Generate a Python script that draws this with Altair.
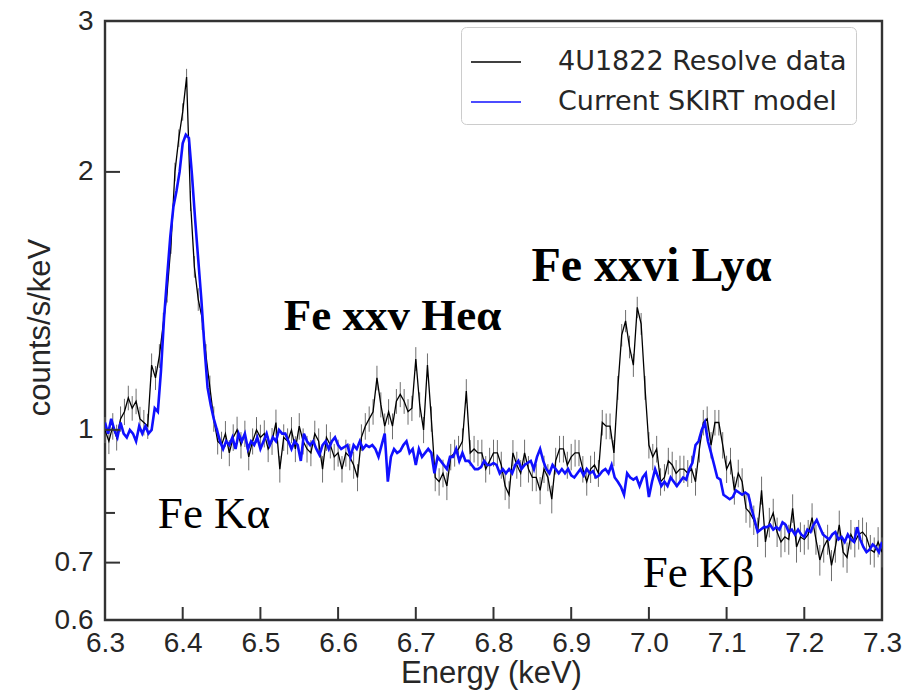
import altair as alt
import pandas as pd

# ---------------- data ----------------
# 4U1822 Resolve data (counts/s/keV), bins from 6.300 to 7.300 keV
data_counts = [
    1.00, 0.97, 1.01, 0.98, 1.03, 1.05, 1.09, 1.06, 1.08, 1.03,
    1.02, 1.01, 1.19, 1.15, 1.22, 1.33, 1.45, 1.65, 2.00, 2.19,
    2.35, 2.58, 1.85, 1.55, 1.42, 1.35, 1.22, 1.12, 1.03, 0.97,
    0.96, 0.99, 0.94, 0.98, 1.00, 0.96, 0.99, 0.93, 0.97, 1.00,
    0.98, 0.99, 0.95, 0.97, 1.02, 0.90, 0.98, 0.97, 1.00, 0.95,
    1.01, 0.97, 0.95, 0.94, 0.99, 0.97, 0.90, 0.98, 0.96, 0.93,
    0.94, 0.90, 0.94, 0.93, 0.91, 0.88, 0.98, 1.01, 1.03, 1.05,
    1.15, 1.07, 1.01, 1.05, 1.01, 1.08, 1.10, 1.08, 1.05, 1.06,
    1.21, 1.07, 1.00, 1.19, 1.03, 0.88, 0.87, 0.89, 0.86, 0.93,
    0.94, 0.95, 0.97, 1.11, 0.94, 0.95, 0.94, 0.94, 0.90, 0.92,
    0.94, 0.94, 0.91, 0.86, 0.84, 0.94, 0.91, 0.89, 0.94, 0.90,
    0.88, 0.88, 0.85, 0.90, 0.88, 0.83, 0.92, 0.95, 0.95, 0.91,
    0.93, 0.94, 0.94, 0.90, 0.87, 0.90, 0.91, 0.89, 1.02, 1.01,
    1.01, 0.94, 1.12, 1.29, 1.34, 1.25, 1.19, 1.39, 1.33, 1.12,
    0.96, 0.93, 0.95, 0.87, 0.88, 0.92, 0.91, 0.89, 0.90, 0.90,
    0.89, 0.90, 0.87, 0.95, 1.02, 1.03, 0.96, 1.02, 1.02, 0.96,
    0.90, 0.92, 0.85, 0.89, 0.87, 0.81, 0.80, 0.785, 0.76, 0.85,
    0.74, 0.78, 0.80, 0.76, 0.74, 0.75, 0.745, 0.81, 0.73, 0.75,
    0.745, 0.755, 0.79, 0.745, 0.705, 0.73, 0.745, 0.695, 0.73, 0.775,
    0.72, 0.71, 0.755, 0.74, 0.755, 0.76, 0.75, 0.725, 0.72, 0.74,
    0.72,
]
# 1-sigma errors (counts/s/keV)
data_errors = [
    0.035, 0.033, 0.036, 0.034, 0.035, 0.037, 0.036, 0.035, 0.037, 0.034,
    0.035, 0.034, 0.038, 0.037, 0.039, 0.040, 0.042, 0.045, 0.050, 0.052,
    0.055, 0.058, 0.050, 0.045, 0.043, 0.042, 0.039, 0.037, 0.035, 0.034,
    0.035, 0.034, 0.033, 0.035, 0.036, 0.034, 0.035, 0.033, 0.034, 0.035,
    0.034, 0.036, 0.033, 0.035, 0.036, 0.032, 0.035, 0.034, 0.035, 0.033,
    0.036, 0.034, 0.034, 0.033, 0.035, 0.034, 0.032, 0.035, 0.034, 0.033,
    0.034, 0.032, 0.034, 0.033, 0.033, 0.032, 0.035, 0.036, 0.035, 0.036,
    0.038, 0.036, 0.035, 0.036, 0.035, 0.036, 0.037, 0.036, 0.036, 0.036,
    0.039, 0.036, 0.035, 0.038, 0.035, 0.032, 0.032, 0.033, 0.032, 0.033,
    0.034, 0.034, 0.034, 0.036, 0.033, 0.034, 0.033, 0.034, 0.032, 0.033,
    0.034, 0.033, 0.033, 0.032, 0.031, 0.033, 0.033, 0.032, 0.034, 0.032,
    0.032, 0.032, 0.031, 0.033, 0.032, 0.031, 0.033, 0.034, 0.034, 0.033,
    0.033, 0.034, 0.033, 0.032, 0.032, 0.033, 0.033, 0.032, 0.035, 0.035,
    0.035, 0.033, 0.036, 0.039, 0.040, 0.038, 0.037, 0.040, 0.039, 0.036,
    0.034, 0.033, 0.034, 0.032, 0.032, 0.033, 0.033, 0.032, 0.033, 0.033,
    0.032, 0.033, 0.032, 0.034, 0.035, 0.035, 0.034, 0.035, 0.035, 0.034,
    0.033, 0.033, 0.032, 0.033, 0.032, 0.031, 0.031, 0.031, 0.030, 0.032,
    0.030, 0.031, 0.031, 0.030, 0.030, 0.030, 0.030, 0.031, 0.030, 0.030,
    0.030, 0.030, 0.031, 0.030, 0.029, 0.030, 0.030, 0.029, 0.030, 0.030,
    0.029, 0.029, 0.030, 0.030, 0.030, 0.030, 0.030, 0.029, 0.029, 0.030,
    0.029,
]
# Current SKIRT model (counts/s/keV), grid from 6.300 to 7.300 keV
model_counts = [
    1.02, 0.99, 1.03, 1.00, 0.98, 1.02, 0.99, 0.98, 1.00, 0.99,
    0.97, 1.01, 0.99, 1.01, 0.99, 1.00, 1.06, 1.05, 1.17, 1.35,
    1.51, 1.68, 1.82, 1.90, 2.00, 2.16, 2.21, 2.19, 1.98, 1.76,
    1.58, 1.42, 1.25, 1.12, 1.07, 1.03, 1.00, 0.97, 0.95, 0.97,
    0.96, 0.98, 0.95, 0.99, 0.97, 0.99, 0.95, 0.97, 0.96, 0.98,
    0.95, 0.97, 0.99, 0.96, 0.98, 0.97, 1.00, 0.99, 0.99, 0.97,
    0.95, 0.97, 0.96, 0.92, 0.99, 0.97, 0.96, 0.97, 0.95, 0.935,
    0.96, 0.97, 0.95, 0.97, 0.98, 0.96, 0.95, 0.955, 0.96, 0.93,
    0.96, 0.95, 0.97, 0.95, 0.96, 0.955, 0.96, 0.95, 0.93, 0.96,
    0.99, 0.87, 0.93, 0.95, 0.94, 0.945, 0.96, 0.97, 0.94, 0.95,
    0.91, 0.95, 0.93, 0.94, 0.95, 0.94, 0.89, 0.93, 0.92, 0.91,
    0.90, 0.93, 0.93, 0.95, 0.92, 0.94, 0.92, 0.92, 0.91, 0.90,
    0.90, 0.905, 0.92, 0.91, 0.91, 0.915, 0.91, 0.89, 0.90, 0.89,
    0.90, 0.89, 0.91, 0.92, 0.90, 0.91, 0.915, 0.92, 0.90, 0.93,
    0.95, 0.92, 0.90, 0.89, 0.91, 0.90, 0.89, 0.90, 0.89, 0.90,
    0.885, 0.88, 0.89, 0.90, 0.885, 0.90, 0.89, 0.895, 0.88, 0.885,
    0.895, 0.90, 0.89, 0.91, 0.88, 0.87, 0.858, 0.84, 0.89, 0.88,
    0.875, 0.88, 0.86, 0.88, 0.89, 0.835, 0.87, 0.90, 0.88, 0.86,
    0.87, 0.86, 0.88, 0.87, 0.86, 0.87, 0.88, 0.875, 0.90, 0.915,
    0.96, 0.97, 1.00, 1.02, 0.97, 0.94, 0.91, 0.88, 0.875, 0.84,
    0.835, 0.83, 0.835, 0.85, 0.845, 0.84, 0.845, 0.84, 0.81, 0.785,
    0.76, 0.765, 0.77, 0.77, 0.775, 0.765, 0.77, 0.765, 0.78, 0.775,
    0.76, 0.765, 0.755, 0.765, 0.755, 0.75, 0.765, 0.76, 0.775, 0.785,
    0.77, 0.755, 0.75, 0.745, 0.755, 0.76, 0.745, 0.75, 0.74, 0.755,
    0.745, 0.74, 0.77, 0.745, 0.73, 0.72, 0.725, 0.735, 0.73, 0.72,
    0.74,
]
E_MIN, E_MAX = 6.3, 7.3

# annotation labels (text anchored at its baseline centre)
ann_plain_text = ["Fe K\u03b1", "Fe K\u03b2"]
ann_plain_E = [6.4403, 7.0638]
ann_plain_v = [0.768, 0.656]
ann_plain_size = [45, 45]
ann_bold_text = ["Fe xxv He\u03b1", "Fe xxvi Ly\u03b1"]
ann_bold_E = [6.670, 7.0034]
ann_bold_v = [1.308, 1.492]
ann_bold_size = [45, 48]

x_ticks = [6.3, 6.4, 6.5, 6.6, 6.7, 6.8, 6.9, 7.0, 7.1, 7.2, 7.3]
y_ticks = [0.6, 0.7, 0.8, 0.9, 1, 2, 3]
y_labelled = [0.6, 0.7, 1, 2, 3]
y_major = [0.7, 1, 2]
y_minor = [0.8, 0.9]

series_names = ["4U1822 Resolve data", "Current SKIRT model"]
series_colors = ["#000000", "#1010ff"]

# ---------------- tables ----------------
nd = len(data_counts)
df_data = pd.DataFrame({
    "E": [E_MIN + i * (E_MAX - E_MIN) / (nd - 1) for i in range(nd)],
    "v": data_counts,
    "err": data_errors,
})
df_data["lo"] = df_data["v"] - df_data["err"]
df_data["hi"] = df_data["v"] + df_data["err"]
df_data["series"] = series_names[0]

nm = len(model_counts)
df_model = pd.DataFrame({
    "E": [E_MIN + i * (E_MAX - E_MIN) / (nm - 1) for i in range(nm)],
    "v": model_counts,
})
df_model["series"] = series_names[1]

df_plain = pd.DataFrame({"E": ann_plain_E, "v": ann_plain_v, "t": ann_plain_text,
                         "s": ann_plain_size})
df_bold = pd.DataFrame({"E": ann_bold_E, "v": ann_bold_v, "t": ann_bold_text,
                        "s": ann_bold_size})
df_xt = pd.DataFrame({"E": x_ticks[1:-1]})
df_ymaj = pd.DataFrame({"v": y_major})
df_ymin = pd.DataFrame({"v": y_minor})

# ---------------- chart ----------------
FONT = "Liberation Sans"
LEG_FONT = "DejaVu Sans"
SERIF = "Liberation Serif"
AX = "#333333"
TXT = "#262626"
W, H = 777, 599

xscale = alt.Scale(domain=[E_MIN, E_MAX], nice=False, zero=False)
yscale = alt.Scale(type="log", domain=[0.6, 3], nice=False)

x_axis = alt.Axis(
    title="Energy (keV)", values=x_ticks, format=".1f", grid=False, domain=False,
    ticks=False, tickSize=0,
    labelPadding=9, labelFontSize=28, labelColor=TXT, labelFont=FONT,
    titleFontSize=31, titleFont=FONT, titleFontWeight="normal", titleColor=TXT,
    titleX=386, titleY=53, titleBaseline="middle", titleAlign="center",
    labelFlush=False, labelOverlap=False,
)
lbl = " || ".join(f"datum.value == {v}" for v in y_labelled)
y_axis = alt.Axis(
    title="counts/s/keV", values=y_ticks, grid=False, domain=False,
    labelExpr=f"({lbl}) ? datum.label : ''",
    ticks=False, tickSize=0,
    labelPadding=12, labelFontSize=28, labelColor=TXT, labelFont=FONT,
    titleFontSize=31, titleFont=FONT, titleFontWeight="normal", titleColor=TXT,
    titleX=-65, titleY=306, titleBaseline="middle", titleAlign="center", titleAngle=270,
    labelFlush=False, labelOverlap=False,
)

color_scale = alt.Scale(domain=series_names, range=series_colors)
legend = alt.Legend(
    title=None, orient="none", legendX=356, legendY=6,
    symbolType="stroke", symbolSize=2500, symbolStrokeWidth=1.6,
    labelFontSize=27, labelFont=LEG_FONT, labelColor=TXT, labelLimit=0,
    labelOffset=36, rowPadding=1, padding=9,
    strokeColor="#cccccc", cornerRadius=5, fillColor="white",
)

errbars = alt.Chart(df_data).mark_rule(color="#6e6e6e", strokeWidth=1).encode(
    x=alt.X("E:Q", scale=xscale, axis=x_axis),
    y=alt.Y("lo:Q", scale=yscale, axis=y_axis),
    y2="hi:Q",
)

data_line = alt.Chart(df_data).mark_line(strokeWidth=1.3, clip=True).encode(
    x=alt.X("E:Q", scale=xscale),
    y=alt.Y("v:Q", scale=yscale),
    color=alt.Color("series:N", scale=color_scale, legend=legend),
)

model_line = alt.Chart(df_model).mark_line(strokeWidth=2.6, clip=True).encode(
    x=alt.X("E:Q", scale=xscale),
    y=alt.Y("v:Q", scale=yscale),
    color=alt.Color("series:N", scale=color_scale, legend=legend),
)

# inward ticks
x_tick_marks = alt.Chart(df_xt).mark_rule(color=AX, strokeWidth=2).encode(
    x=alt.X("E:Q", scale=xscale), y=alt.value(H), y2=alt.value(H - 13)
)
y_major_marks = alt.Chart(df_ymaj).mark_rule(color=AX, strokeWidth=2).encode(
    y=alt.Y("v:Q", scale=yscale), x=alt.value(0), x2=alt.value(15)
)
y_minor_marks = alt.Chart(df_ymin).mark_rule(color=AX, strokeWidth=2).encode(
    y=alt.Y("v:Q", scale=yscale), x=alt.value(0), x2=alt.value(10)
)

plain_txt = alt.Chart(df_plain).mark_text(
    font=SERIF, color="black", baseline="alphabetic", align="center"
).encode(
    x=alt.X("E:Q", scale=xscale), y=alt.Y("v:Q", scale=yscale), text="t:N",
    size=alt.Size("s:Q", scale=None, legend=None),
)

bold_txt = alt.Chart(df_bold).mark_text(
    font=SERIF, fontWeight="bold", color="black",
    baseline="alphabetic", align="center"
).encode(
    x=alt.X("E:Q", scale=xscale), y=alt.Y("v:Q", scale=yscale), text="t:N",
    size=alt.Size("s:Q", scale=None, legend=None),
)

chart = alt.layer(
    errbars, data_line, model_line, x_tick_marks, y_major_marks, y_minor_marks,
    plain_txt, bold_txt
).properties(
    width=W, height=H,
    autosize=alt.AutoSizeParams(type="none"),
    padding={"left": 105, "top": 21, "right": 21, "bottom": 71},
    background="white",
).configure_view(stroke=AX, strokeWidth=2.4)

chart.save("out.html", embed_options={"renderer": "svg", "actions": False})
